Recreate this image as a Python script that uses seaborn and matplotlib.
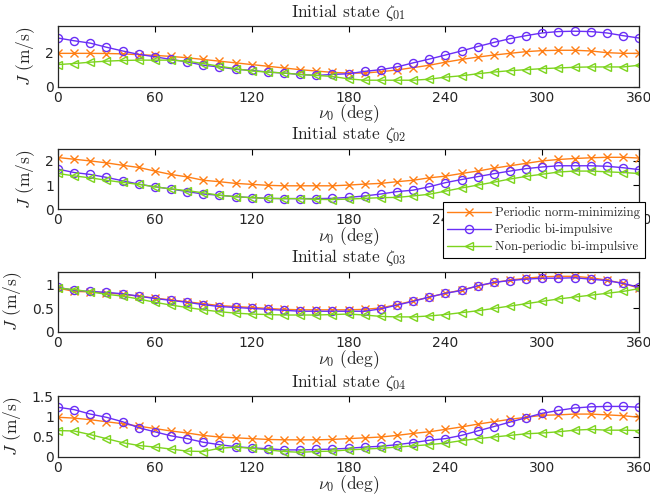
import numpy as np
import pandas as pd
import matplotlib
matplotlib.use("Agg")
import matplotlib.pyplot as plt
import seaborn as sns

nu0 = list(range(0, 361, 10))

series_names = ["Periodic norm-minimizing", "Periodic bi-impulsive", "Non-periodic bi-impulsive"]
titles = [r"Initial state $\zeta_{01}$", r"Initial state $\zeta_{02}$",
          r"Initial state $\zeta_{03}$", r"Initial state $\zeta_{04}$"]

# Initial state zeta_01
z1_norm = [1.96, 1.96, 1.96, 1.95, 1.93, 1.88, 1.84, 1.78, 1.70, 1.60, 1.50, 1.40, 1.30, 1.20,
           1.10, 1.00, 0.92, 0.84, 0.80, 0.80, 0.88, 0.98, 1.12, 1.26, 1.44, 1.60, 1.74, 1.86,
           1.96, 2.06, 2.12, 2.14, 2.14, 2.10, 2.00, 1.96, 1.96]
z1_bi = [2.86, 2.70, 2.56, 2.32, 2.10, 1.90, 1.76, 1.60, 1.46, 1.26, 1.16, 1.02, 0.96, 0.86,
         0.80, 0.72, 0.66, 0.72, 0.76, 0.90, 1.00, 1.16, 1.40, 1.62, 1.86, 2.10, 2.36, 2.60,
         2.82, 3.00, 3.16, 3.24, 3.26, 3.24, 3.16, 3.00, 2.86]
z1_np = [1.30, 1.36, 1.44, 1.50, 1.54, 1.56, 1.56, 1.56, 1.50, 1.36, 1.20, 1.06, 0.92, 0.86,
         0.80, 0.72, 0.66, 0.60, 0.46, 0.38, 0.38, 0.38, 0.38, 0.44, 0.56, 0.64, 0.76, 0.86,
         0.94, 1.00, 1.06, 1.10, 1.14, 1.16, 1.16, 1.16, 1.26]

# Initial state zeta_02
z2_norm = [2.14, 2.07, 2.00, 1.92, 1.82, 1.73, 1.58, 1.44, 1.34, 1.20, 1.14, 1.07, 1.03, 0.99,
           0.97, 0.97, 0.97, 0.97, 1.00, 1.04, 1.07, 1.14, 1.20, 1.30, 1.37, 1.48, 1.58, 1.70,
           1.80, 1.90, 2.00, 2.06, 2.10, 2.13, 2.15, 2.15, 2.12]
z2_bi = [1.66, 1.52, 1.44, 1.32, 1.18, 1.04, 0.93, 0.84, 0.73, 0.63, 0.58, 0.52, 0.48, 0.45,
         0.44, 0.44, 0.44, 0.45, 0.49, 0.55, 0.63, 0.73, 0.79, 0.93, 1.10, 1.23, 1.35, 1.47,
         1.58, 1.68, 1.75, 1.80, 1.80, 1.80, 1.78, 1.72, 1.64]
z2_np = [1.48, 1.38, 1.30, 1.20, 1.11, 1.03, 0.93, 0.84, 0.77, 0.68, 0.58, 0.52, 0.48, 0.45,
         0.44, 0.44, 0.41, 0.40, 0.42, 0.45, 0.48, 0.49, 0.55, 0.62, 0.75, 0.88, 1.00, 1.12,
         1.25, 1.36, 1.45, 1.54, 1.58, 1.58, 1.55, 1.52, 1.48]

# Initial state zeta_03
z3_norm = [0.93, 0.86, 0.85, 0.83, 0.80, 0.76, 0.72, 0.68, 0.64, 0.60, 0.56, 0.54, 0.52, 0.50,
           0.48, 0.47, 0.47, 0.47, 0.47, 0.48, 0.51, 0.58, 0.66, 0.74, 0.82, 0.89, 0.97, 1.05,
           1.10, 1.14, 1.17, 1.18, 1.18, 1.15, 1.10, 1.03, 0.93]
z3_bi = [0.95, 0.88, 0.86, 0.84, 0.81, 0.76, 0.71, 0.67, 0.63, 0.58, 0.54, 0.52, 0.50, 0.48,
         0.46, 0.44, 0.44, 0.44, 0.44, 0.44, 0.49, 0.57, 0.65, 0.74, 0.82, 0.88, 0.98, 1.05,
         1.09, 1.12, 1.14, 1.14, 1.15, 1.12, 1.09, 1.03, 0.95]
z3_np = [0.93, 0.90, 0.85, 0.80, 0.76, 0.70, 0.63, 0.57, 0.52, 0.47, 0.43, 0.40, 0.38, 0.37,
         0.36, 0.36, 0.36, 0.37, 0.38, 0.36, 0.33, 0.32, 0.32, 0.34, 0.37, 0.41, 0.45, 0.50,
         0.55, 0.60, 0.65, 0.70, 0.74, 0.78, 0.82, 0.86, 0.92]

# Initial state zeta_04
z4_norm = [0.98, 0.96, 0.92, 0.87, 0.82, 0.76, 0.70, 0.64, 0.59, 0.53, 0.49, 0.47, 0.45, 0.43,
           0.42, 0.42, 0.42, 0.43, 0.45, 0.47, 0.49, 0.53, 0.58, 0.62, 0.68, 0.74, 0.81, 0.87,
           0.93, 0.98, 1.03, 1.04, 1.06, 1.06, 1.04, 1.02, 0.98]
z4_bi = [1.23, 1.17, 1.06, 0.98, 0.87, 0.72, 0.62, 0.52, 0.45, 0.36, 0.30, 0.25, 0.22, 0.20,
         0.17, 0.17, 0.18, 0.19, 0.21, 0.24, 0.26, 0.30, 0.35, 0.41, 0.45, 0.53, 0.64, 0.75,
         0.86, 0.97, 1.08, 1.15, 1.21, 1.24, 1.25, 1.25, 1.23]
z4_np = [0.65, 0.64, 0.55, 0.45, 0.35, 0.28, 0.24, 0.19, 0.14, 0.13, 0.21, 0.24, 0.21, 0.17,
         0.13, 0.11, 0.13, 0.14, 0.17, 0.19, 0.21, 0.24, 0.27, 0.30, 0.34, 0.40, 0.45, 0.49,
         0.53, 0.57, 0.59, 0.62, 0.66, 0.68, 0.66, 0.66, 0.65]

panels = [(z1_norm, z1_bi, z1_np), (z2_norm, z2_bi, z2_np),
          (z3_norm, z3_bi, z3_np), (z4_norm, z4_bi, z4_np)]
ylims = [(0, 3.55), (0, 2.5), (0, 1.28), (0, 1.5)]
yticks = [[0, 2], [0, 1, 2], [0, 0.5, 1], [0, 0.5, 1, 1.5]]
xticks = [0, 60, 120, 180, 240, 300, 360]

colors = ["#FF7F16", "#6A2EF6", "#7DD41E"]
markers = ["x", "o", "<"]

sns.set_style("white")
plt.rcParams["mathtext.fontset"] = "cm"
plt.rcParams["font.family"] = ["DejaVu Sans"]
serif = "cmr10"

fig = plt.figure(figsize=(6.5, 4.97), dpi=100)
bottoms = [0.8256, 0.579, 0.332, 0.081]
ylabel_x = [-0.036, -0.036, -0.058, -0.058]
handles = None
for i, (vals, b) in enumerate(zip(panels, bottoms)):
    ax = fig.add_axes([0.0892, b, 0.894, 0.1215])
    for name, v, c, m in zip(series_names, vals, colors, markers):
        df = pd.DataFrame({"nu0": nu0, "J": v})
        sns.lineplot(data=df, x="nu0", y="J", ax=ax, color=c, marker=m,
                     markersize=5.8 if m != "x" else 5.5, markerfacecolor="none",
                     markeredgecolor=c, markeredgewidth=1.0, linewidth=1.0,
                     label=name, legend=False)
    ax.set_xlim(0, 360)
    ax.set_ylim(*ylims[i])
    ax.set_xticks(xticks)
    ax.set_yticks(yticks[i])
    ax.set_yticklabels([f"{t:g}" for t in yticks[i]])
    ax.tick_params(direction="in", length=4, width=0.8, top=True, right=True,
                   labelsize=10, pad=3, colors="black")
    for lab in ax.get_xticklabels() + ax.get_yticklabels():
        lab.set_color("#262626")
    for s in ax.spines.values():
        s.set_linewidth(0.9)
        s.set_color("#262626")
    ax.set_title(titles[i], fontsize=12.5, family=serif, pad=7)
    ax.set_xlabel(r"$\nu_0$ (deg)", fontsize=12.5, family=serif, labelpad=-1.5)
    ax.set_ylabel(r"$J$ (m/s)", fontsize=12.5, family=serif)
    ax.yaxis.set_label_coords(ylabel_x[i], 0.5)
    if i == 0:
        handles, labels = ax.get_legend_handles_labels()

leg = fig.legend(handles, series_names, loc="upper left",
                 bbox_to_anchor=(443 / 650, 1 - 202 / 497),
                 prop={"family": serif, "size": 9.2}, frameon=True, fancybox=False,
                 edgecolor="black", framealpha=1, borderpad=0.35, labelspacing=0.35,
                 handlelength=3.4, handletextpad=0.35, borderaxespad=0)
leg.get_frame().set_linewidth(0.8)
leg.set_zorder(10)

fig.savefig("out.png", dpi=100)
